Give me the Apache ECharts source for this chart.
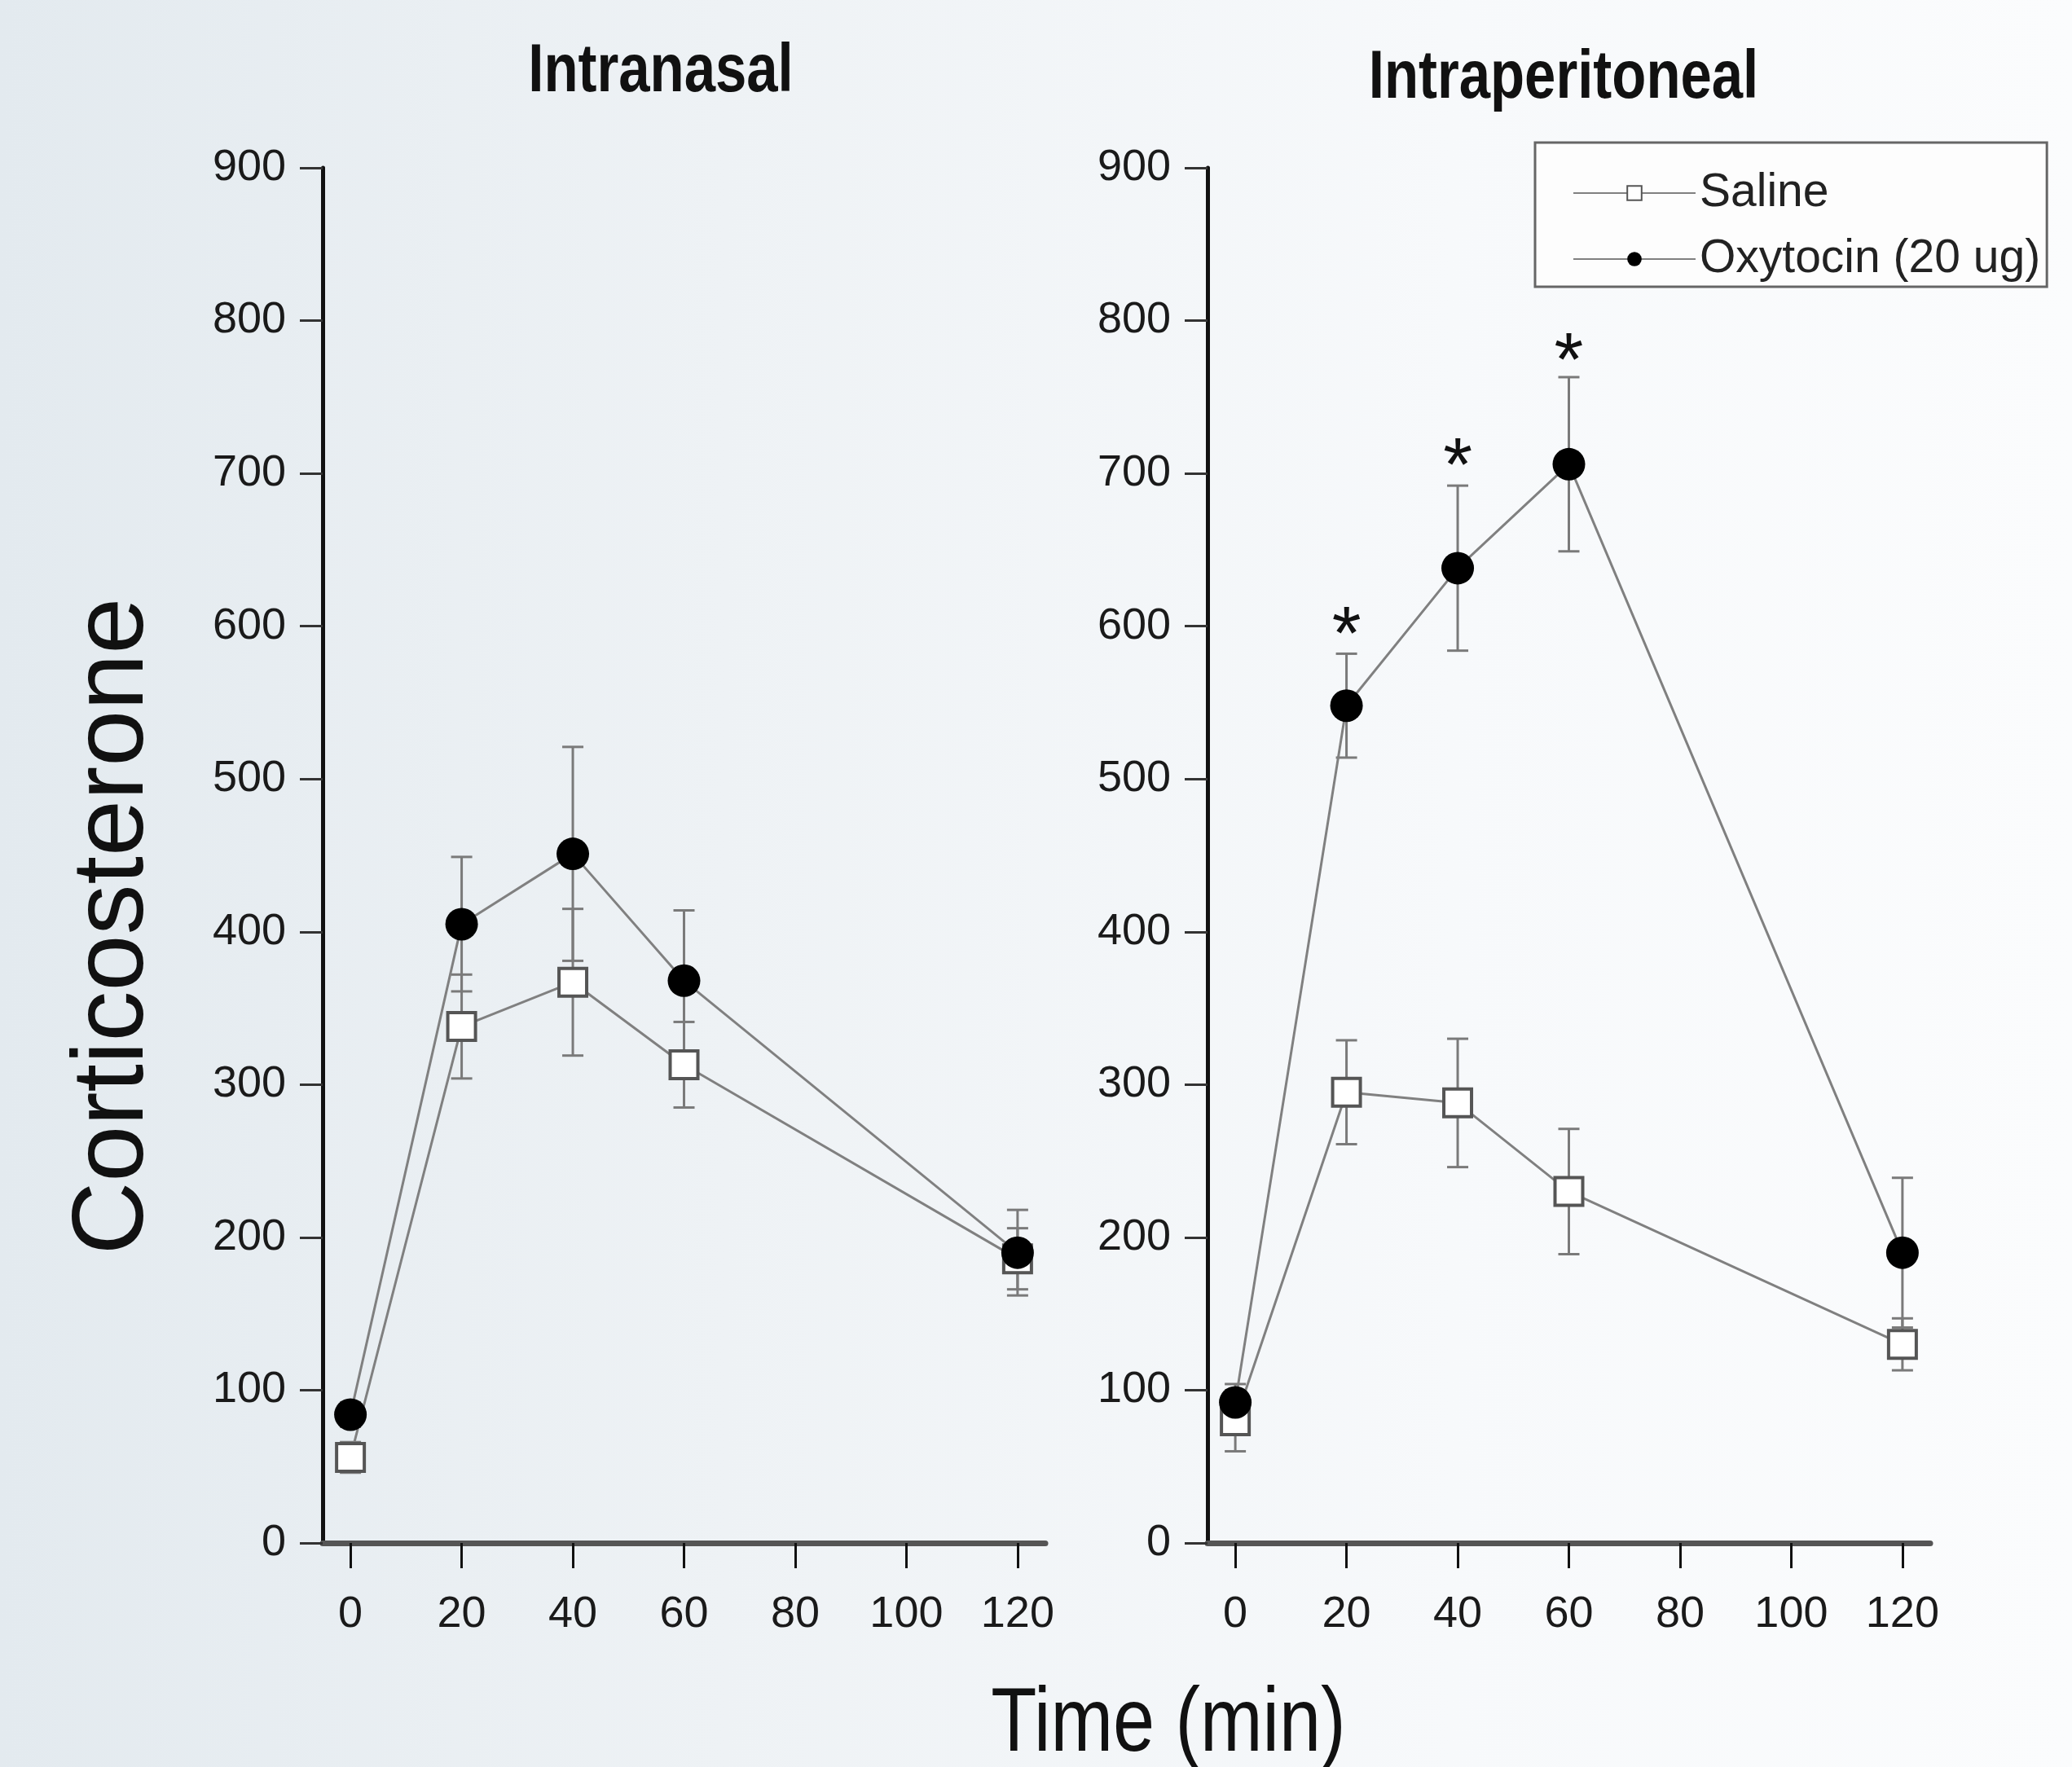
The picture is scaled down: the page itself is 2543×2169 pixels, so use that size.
<!DOCTYPE html>
<html><head><meta charset="utf-8">
<script src="https://cdn.jsdelivr.net/npm/echarts@6/dist/echarts.min.js"></script>
<style>html,body{margin:0;padding:0;}#c{width:2543px;height:2169px;}</style>
</head><body><div id="c"></div>
<script>
// ---- data ----
const timePoints = [0, 20, 40, 60, 120];
const xTickValues = [0, 20, 40, 60, 80, 100, 120];
const panelTitles = ['Intranasal', 'Intraperitoneal'];
const seriesNames = ['Saline', 'Oxytocin (20 ug)'];
const yAxisName = 'Corticosterone';
const xAxisName = 'Time (min)';
// Intranasal
const inSalineMean = [56, 338, 367, 313, 186];
const inSalineErr  = [10, 34, 48, 28, 20];
const inOxyMean    = [84, 405, 451, 368, 190];
const inOxyErr     = [8, 44, 70, 46, 28];
// Intraperitoneal
const ipSalineMean = [80, 295, 288, 230, 130];
const ipSalineErr  = [20, 34, 42, 41, 17];
const ipOxyMean    = [92, 548, 638, 706, 190];
const ipOxyErr     = [12, 34, 54, 57, 49];
// significance marks (Intraperitoneal)
const sigTimes  = [20, 40, 60];
const sigLevels = [604, 714, 783];
const sigText = '*';

// ---- styling ----
const REG = '"Liberation Sans", Arial, sans-serif';
const LINE_GRAY = '#808080';
const ERR_GRAY = '#7a7a7a';
const NARROW_SCALE = 0.82;

const chart = echarts.init(document.getElementById('c'), null, {renderer: 'canvas'});

function pts(mean) { return timePoints.map((t, i) => [t, mean[i]]); }
function errData(mean, err) { return timePoints.map((t, i) => [t, mean[i] - err[i], mean[i] + err[i]]); }

function errRender(params, api) {
  const x = api.value(0), lo = api.value(1), hi = api.value(2);
  const pLo = api.coord([x, lo]), pHi = api.coord([x, hi]);
  const hw = 13;
  const st = {stroke: ERR_GRAY, lineWidth: 3};
  return {type: 'group', children: [
    {type: 'line', shape: {x1: pLo[0], y1: pLo[1], x2: pHi[0], y2: pHi[1]}, style: st},
    {type: 'line', shape: {x1: pLo[0] - hw, y1: pLo[1], x2: pLo[0] + hw, y2: pLo[1]}, style: st},
    {type: 'line', shape: {x1: pHi[0] - hw, y1: pHi[1], x2: pHi[0] + hw, y2: pHi[1]}, style: st}
  ]};
}

function sigRender(params, api) {
  const p = api.coord([api.value(0), api.value(1)]);
  return {type: 'text', x: p[0], y: p[1] + 22,
    style: {text: sigText, font: 'normal 92px ' + REG, fill: '#111', align: 'center', verticalAlign: 'middle'}};
}

const grids = [
  {left: 396, top: 206, width: 887, height: 1688},
  {left: 1482, top: 206, width: 887, height: 1688}
];

function xAx(i) {
  return {type: 'value', gridIndex: i, min: -5, max: 125,
    axisLine: {show: true, onZero: false, lineStyle: {color: '#555', width: 7}},
    axisTick: {show: true, customValues: xTickValues, length: 31, lineStyle: {color: '#111', width: 3}},
    axisLabel: {show: true, customValues: xTickValues, margin: 61, fontSize: 54, fontFamily: REG, color: '#1a1a1a'},
    splitLine: {show: false}};
}
function yAx(i) {
  return {type: 'value', gridIndex: i, min: 0, max: 900, interval: 100,
    axisLine: {show: true, onZero: false, lineStyle: {color: '#111', width: 5}},
    axisTick: {show: true, length: 28, lineStyle: {color: '#333', width: 3}},
    axisLabel: {show: true, margin: 45, fontSize: 54, fontFamily: REG, color: '#1a1a1a'},
    splitLine: {show: false}};
}

const panels = [
  {sMean: inSalineMean, sErr: inSalineErr, oMean: inOxyMean, oErr: inOxyErr},
  {sMean: ipSalineMean, sErr: ipSalineErr, oMean: ipOxyMean, oErr: ipOxyErr}
];

const series = [];
panels.forEach((p, i) => {
  series.push({type: 'custom', xAxisIndex: i, yAxisIndex: i, z: 2, silent: true,
    renderItem: errRender, data: errData(p.sMean, p.sErr)});
  series.push({type: 'custom', xAxisIndex: i, yAxisIndex: i, z: 2, silent: true,
    renderItem: errRender, data: errData(p.oMean, p.oErr)});
  series.push({type: 'line', name: seriesNames[0], xAxisIndex: i, yAxisIndex: i, z: 3,
    data: pts(p.sMean), symbol: 'rect', symbolSize: 34, showSymbol: true,
    itemStyle: {color: '#ffffff', borderColor: '#555', borderWidth: 4},
    lineStyle: {color: LINE_GRAY, width: 3}, emphasis: {disabled: true}});
  series.push({type: 'line', name: seriesNames[1], xAxisIndex: i, yAxisIndex: i, z: 4,
    data: pts(p.oMean), symbol: 'circle', symbolSize: 40, showSymbol: true,
    itemStyle: {color: '#000000', borderWidth: 0},
    lineStyle: {color: LINE_GRAY, width: 3}, emphasis: {disabled: true}});
});
series.push({type: 'custom', xAxisIndex: 1, yAxisIndex: 1, z: 5, silent: true,
  renderItem: sigRender, data: sigTimes.map((t, i) => [t, sigLevels[i]])});

const option = {
  animation: false,
  backgroundColor: {type: 'linear', x: 0, y: 0, x2: 1, y2: 0,
    colorStops: [{offset: 0, color: '#e3eaef'}, {offset: 0.35, color: '#eef2f5'},
                 {offset: 0.7, color: '#f7f9fb'}, {offset: 1, color: '#fbfcfd'}]},
  grid: grids,
  xAxis: [xAx(0), xAx(1)],
  yAxis: [yAx(0), yAx(1)],
  legend: {
    data: seriesNames, orient: 'vertical', left: 1884, top: 175,
    padding: [32, 8, 4, 46], itemWidth: 150, itemHeight: 22, itemGap: 21,
    backgroundColor: '#fdfdfd', borderColor: '#666', borderWidth: 3, borderRadius: 0,
    textStyle: {fontFamily: REG, fontSize: 57, color: '#222', lineHeight: 60},
    selectedMode: false
  },
  graphic: [
    {type: 'text', x: 811, y: 89, scaleX: NARROW_SCALE, style: {text: panelTitles[0], font: 'bold 84px ' + REG, fill: '#111', align: 'center', verticalAlign: 'middle'}},
    {type: 'text', x: 1919, y: 97, scaleX: NARROW_SCALE, style: {text: panelTitles[1], font: 'bold 84px ' + REG, fill: '#111', align: 'center', verticalAlign: 'middle'}},
    {type: 'text', x: 141, y: 1137, rotation: Math.PI / 2, style: {text: yAxisName, font: 'normal 124px ' + REG, fill: '#111', align: 'center', verticalAlign: 'middle'}},
    {type: 'text', x: 1434, y: 2118, scaleX: NARROW_SCALE, style: {text: xAxisName, font: 'normal 112px ' + REG, fill: '#111', align: 'center', verticalAlign: 'middle'}}
  ],
  series: series
};
chart.setOption(option);
</script>
</body></html>
